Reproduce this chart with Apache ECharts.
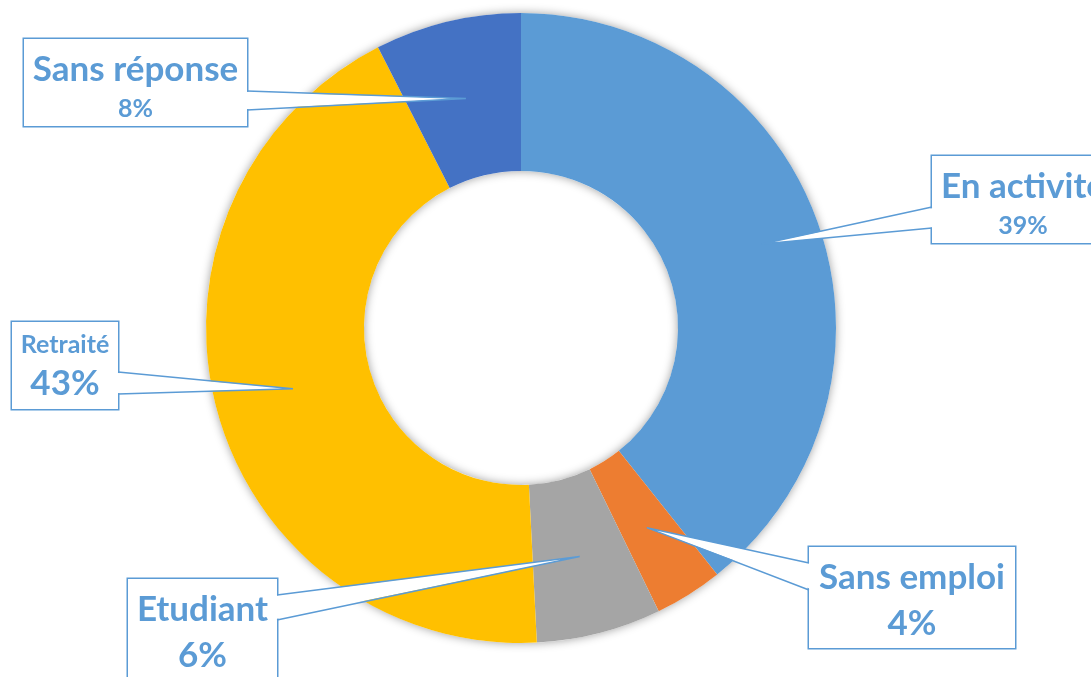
<!DOCTYPE html>
<html><head><meta charset="utf-8">
<script src="https://cdn.jsdelivr.net/npm/echarts@6/dist/echarts.min.js"></script>
<style>html,body{margin:0;padding:0;background:#fff}#c{width:1091px;height:677px}</style>
</head><body><div id="c"></div>
<script>
// ---- data ----
const categories = ['En activité', 'Sans emploi', 'Etudiant', 'Retraité', 'Sans réponse'];
const values = [39.3, 3.5, 6.4, 43.3, 7.5];
const colors = ['#5B9BD5', '#ED7D31', '#A5A5A5', '#FFC000', '#4472C4'];
// size of the (name, percent) lines in each callout: L = large, S = small
const textSizes = [['L', 'S'], ['L', 'L'], ['L', 'L'], ['S', 'L'], ['L', 'S']];

// ---- layout of the callout boxes (positions only) ----
const calloutLayout = [
  {left: 932, top: 156, width: 182, side: 'left',  b1: 207, b2: 228, tip: 0.62},
  {left: 809, top: 547, width: 206, side: 'left',  b1: 563, b2: 590, tip: 0.5},
  {left: 128, top: 579, width: 149, side: 'right', b1: 595, b2: 620, tip: 0.5},
  {left: 12,  top: 322, width: 106, side: 'right', b1: 372, b2: 394, tip: 0.5},
  {left: 24,  top: 39,  width: 223, side: 'right', b1: 91,  b2: 110, tip: 0.5}
];
const paddings = {LS: [8, 0, 1, 0], LL: [8, 0, 1, 0], SL: [7, 0, 2, 0]};

const BLUE = '#5B9BD5';
const FONT = 'Lato';

const chart = echarts.init(document.getElementById('c'), null, {renderer: 'canvas'});

const dataItems = categories.map((name, i) => {
  const key = textSizes[i].join('');
  return {
    name: name,
    value: values[i],
    itemStyle: {color: colors[i]},
    label: {width: calloutLayout[i].width, padding: paddings[key]}
  };
});

const option = {
  backgroundColor: '#ffffff',
  animation: false,
  series: [{
    type: 'pie',
    center: [521, 328],
    radius: [157, 315],
    startAngle: 90,
    clockwise: true,
    avoidLabelOverlap: false,
    itemStyle: {borderWidth: 0},
    label: {
      show: true,
      position: 'outside',
      backgroundColor: '#ffffff',
      borderColor: BLUE,
      borderWidth: 1.5,
      align: 'center',
      color: BLUE,
      fontFamily: FONT,
      fontWeight: 'bold',
      formatter: function (p) {
        const s = textSizes[p.dataIndex];
        return '{' + s[0] + 'n|' + p.name + '}\n{' + s[1] + 'p|' + Math.round(p.percent) + '%}';
      },
      rich: {
        Ln: {fontSize: 35, lineHeight: 46, fontFamily: FONT, fontWeight: 'bold', color: BLUE, align: 'center'},
        Sn: {fontSize: 25, lineHeight: 32, fontFamily: FONT, fontWeight: 'bold', color: BLUE, align: 'center'},
        Lp: {fontSize: 35, lineHeight: 46, fontFamily: FONT, fontWeight: 'bold', color: BLUE, align: 'center'},
        Sp: {fontSize: 25, lineHeight: 32, fontFamily: FONT, fontWeight: 'bold', color: BLUE, align: 'center'}
      }
    },
    labelLine: {show: false},
    labelLayout: function (params) {
      const l = calloutLayout[params.dataIndex];
      return {x: l.left + l.width / 2, y: l.top, align: 'center', verticalAlign: 'top'};
    },
    emphasis: {disabled: true},
    data: dataItems
  }]
};

chart.setOption(option);

// callout pointers and ring shadow derived from the library's own pie layout
(function () {
  const data = chart.getModel().getSeriesByIndex(0).getData();
  const graphics = [];
  let ring = null;
  data.each(function (i) {
    const ly = data.getItemLayout(i);
    if (!ring) ring = ly;
    const mid = (ly.startAngle + ly.endAngle) / 2;
    const c = calloutLayout[i];
    const rr = ly.r0 + c.tip * (ly.r - ly.r0);
    const tx = ly.cx + rr * Math.cos(mid);
    const ty = ly.cy + rr * Math.sin(mid);
    const bx = c.side === 'left' ? c.left : c.left + c.width;
    const inset = c.side === 'left' ? 2.5 : -2.5;
    graphics.push({
      type: 'polygon', z: 50, silent: true,
      shape: {points: [[bx + inset, c.b1 + 0.8], [tx, ty], [bx + inset, c.b2 - 0.8]]},
      style: {fill: '#ffffff', stroke: null}
    });
    graphics.push({
      type: 'polyline', z: 51, silent: true,
      shape: {points: [[bx, c.b1], [tx, ty], [bx, c.b2]]},
      style: {fill: null, stroke: BLUE, lineWidth: 1.5, lineJoin: 'miter'}
    });
  });
  if (ring) {
    graphics.unshift({
      type: 'ring', z: 0, silent: true,
      shape: {cx: ring.cx, cy: ring.cy, r: ring.r, r0: ring.r0},
      style: {fill: '#ffffff', shadowBlur: 10, shadowColor: 'rgba(0,0,0,0.38)'}
    });
  }
  chart.setOption({graphic: {elements: graphics}});
})();
</script>
</body></html>
